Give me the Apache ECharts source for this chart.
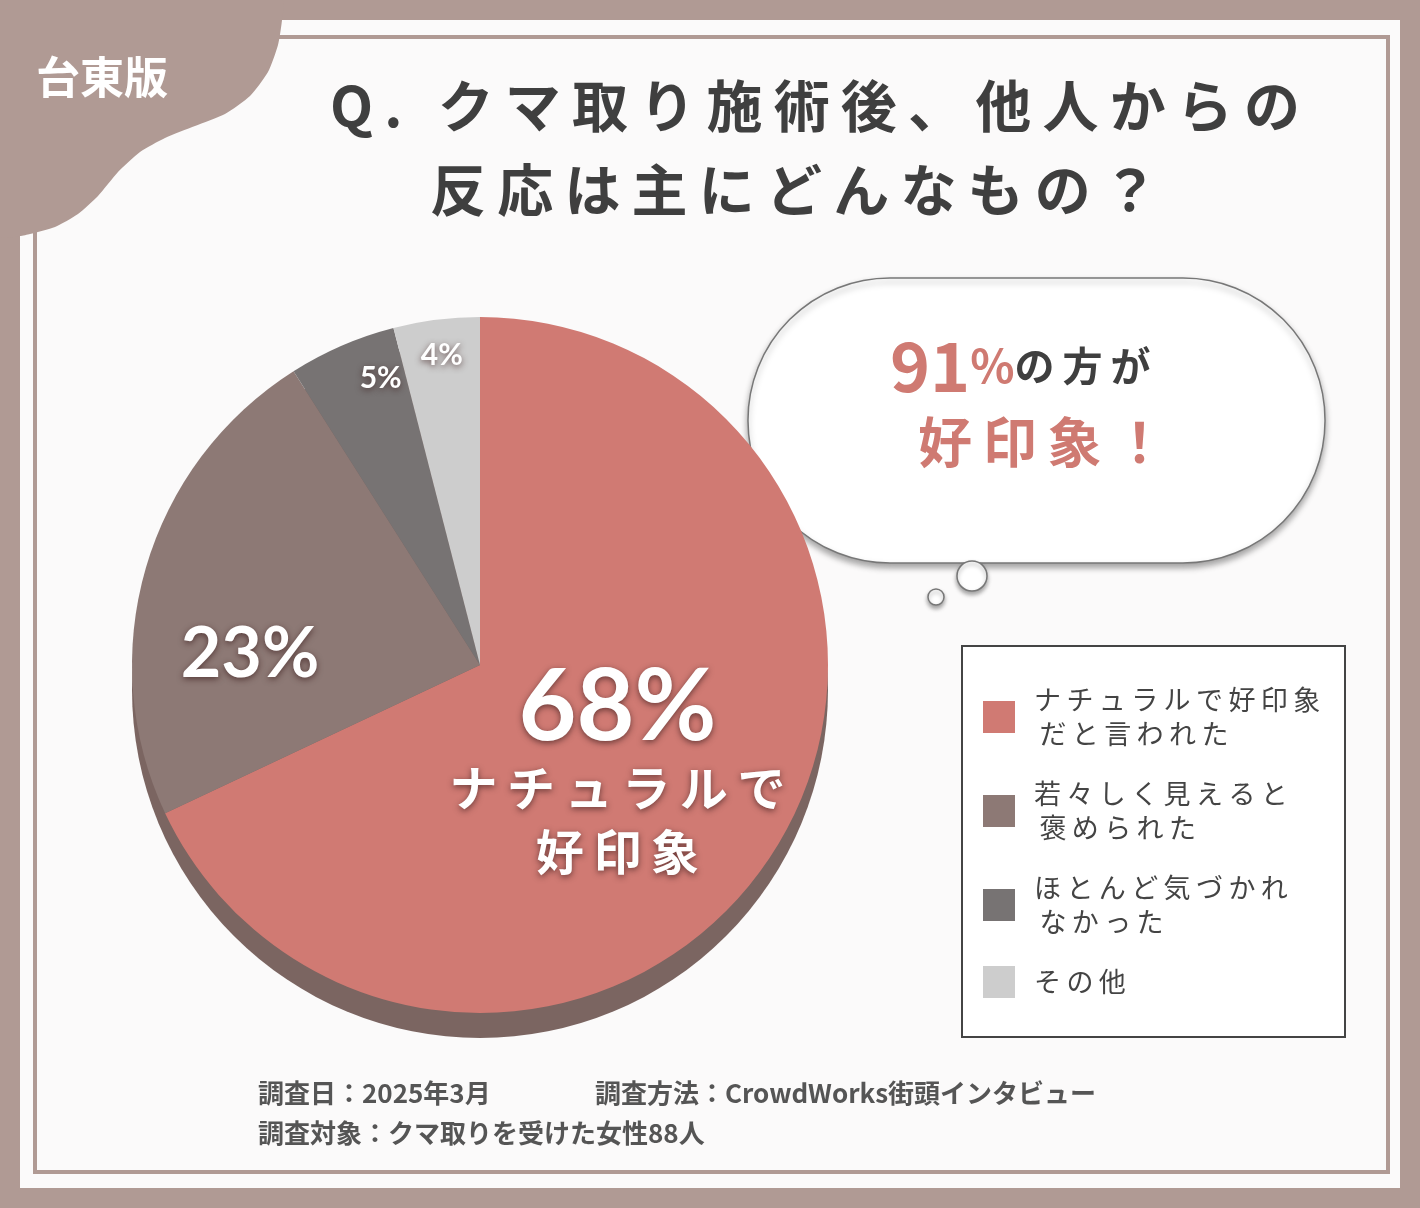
<!DOCTYPE html>
<html><head><meta charset="utf-8">
<script src="https://cdn.jsdelivr.net/npm/echarts@6/dist/echarts.min.js"></script>
<style>html,body{margin:0;padding:0;background:#b09a94}#c{width:1420px;height:1208px}</style>
</head><body><div id="c"></div>
<script>
// 回答データ
const categories = ['ナチュラルで好印象だと言われた', '若々しく見えると褒められた', 'ほとんど気づかれなかった', 'その他'];
const legendLabels = ['ナチュラルで好印象\nだと言われた', '若々しく見えると\n褒められた', 'ほとんど気づかれ\nなかった', 'その他'];
const values = [68, 23, 5, 4];
const colors = ['#d07a73', '#8d7975', '#777373', '#cdcdcd'];
const sp = s => s.split('').join('\u2009');

const font = '"Noto Sans CJK JP", sans-serif';
const labelFmt = p => {
  if (p.dataIndex === 0) return '{big|' + p.value + '%}\n{sub|' + sp('ナチュラルで') + '}\n{sub|' + sp('好印象') + '}';
  if (p.dataIndex === 1) return '{mid|' + p.value + '%}';
  return '{sm|' + p.value + '%}';
};
const offs = [[-12, 12], [-60, 39], [-29, -124], [-16, -134]];
const tabPts = [[0,0],[282,0],[282,20],[278,45],[268,72],[250,96],[225,114],[195,126],[165,138],[140,152],[118,172],[98,196],[78,214],[55,227],[30,234],[20,236],[0,236]];

const chart = echarts.init(document.getElementById('c'));
chart.setOption({
  backgroundColor: '#b09a94',
  color: colors,
  graphic: [
    { type: 'rect', shape: { x: 20, y: 20, width: 1380, height: 1168 }, style: { fill: '#fbfafa' }, z: -10 },
    { type: 'rect', shape: { x: 35, y: 37, width: 1353, height: 1135 }, style: { fill: 'none', stroke: '#b09a94', lineWidth: 4 }, z: -9 },
    { type: 'polygon', shape: { points: tabPts, smooth: 0.2 }, style: { fill: '#b09a94' }, z: -8 },
    { type: 'text', left: 36, top: 55, style: { text: '台東版', fill: '#fff', font: 'bold 44px ' + font } },
    { type: 'text', left: 330, top: 78, style: { text: sp('Q. クマ取り施術後、他人からの'), fill: '#3f3f3f', font: 'bold 56px ' + font } },
    { type: 'text', left: 430, top: 162, style: { text: sp('反応は主にどんなもの？'), fill: '#3f3f3f', font: 'bold 56px ' + font } },
    { type: 'circle', shape: { cx: 480, cy: 690, r: 348 }, style: { fill: '#7b6561' }, z: -5 },
    { type: 'rect', shape: { x: 748, y: 278, width: 577, height: 285, r: 142 }, style: { fill: '#fff', stroke: '#777', lineWidth: 1.5, shadowColor: 'rgba(0,0,0,0.35)', shadowBlur: 6, shadowOffsetY: 4 } },
    { type: 'circle', shape: { cx: 972, cy: 576, r: 15 }, style: { fill: '#fff', stroke: '#777', lineWidth: 1.5, shadowColor: 'rgba(0,0,0,0.35)', shadowBlur: 4, shadowOffsetY: 3 } },
    { type: 'circle', shape: { cx: 936, cy: 597, r: 8 }, style: { fill: '#fff', stroke: '#777', lineWidth: 1.5, shadowColor: 'rgba(0,0,0,0.35)', shadowBlur: 4, shadowOffsetY: 3 } },
    { type: 'text', left: 890, top: 332, style: { rich: { r: { fill: '#cf7a72', font: 'bold 68px ' + font }, p: { fill: '#cf7a72', font: 'bold 46px ' + font }, k: { fill: '#3f3f3f', font: 'bold 40px ' + font } }, text: '{r|91}{p|%}{k|' + sp('の方が') + '}' } },
    { type: 'text', left: 918, top: 415, style: { text: sp('好印象！'), fill: '#cf7a72', font: 'bold 54px ' + font } },
    { type: 'rect', shape: { x: 962, y: 646, width: 383, height: 391 }, style: { fill: '#fff', stroke: '#444', lineWidth: 2 } },
    { type: 'text', left: 258, top: 1080, style: { text: '調査日：2025年3月', fill: '#555', font: 'bold 26px ' + font } },
    { type: 'text', left: 595, top: 1080, style: { text: '調査方法：CrowdWorks街頭インタビュー', fill: '#555', font: 'bold 26px ' + font } },
    { type: 'text', left: 258, top: 1120, style: { text: '調査対象：クマ取りを受けた女性88人', fill: '#555', font: 'bold 26px ' + font } }
  ],
  legend: {
    orient: 'vertical', left: 978, top: 678, itemWidth: 32, itemHeight: 32, itemGap: 26, icon: 'rect',
    formatter: n => sp(legendLabels[categories.indexOf(n)]),
    textStyle: { fontFamily: font, fontSize: 27, color: '#444', lineHeight: 34, padding: [0, 0, 0, 14] },
    data: categories
  },
  series: [{
    type: 'pie', center: [480, 665], radius: 348, startAngle: 90, clockwise: true,
    silent: true, animation: false,
    data: categories.map((c, i) => ({ name: c, value: values[i] })),
    label: {
      position: 'inside', formatter: labelFmt,
      textShadowColor: 'rgba(60,30,30,0.7)', textShadowBlur: 6, textShadowOffsetY: 2,
      rich: {
        big: { fontFamily: 'Lato, sans-serif', fontWeight: 'bold', fontSize: 100, color: '#fff', lineHeight: 96 },
        sub: { fontFamily: font, fontWeight: 'bold', fontSize: 48, color: '#fff', lineHeight: 64 },
        mid: { fontFamily: 'Lato, sans-serif', fontWeight: 'bold', fontSize: 70, color: '#fff' },
        sm: { fontFamily: 'Lato, sans-serif', fontWeight: 'bold', fontSize: 30, color: '#fff' }
      }
    },
    labelLayout: p => ({ dx: offs[p.dataIndex][0], dy: offs[p.dataIndex][1] }),
    labelLine: { show: false }
  }]
});
</script></body></html>
